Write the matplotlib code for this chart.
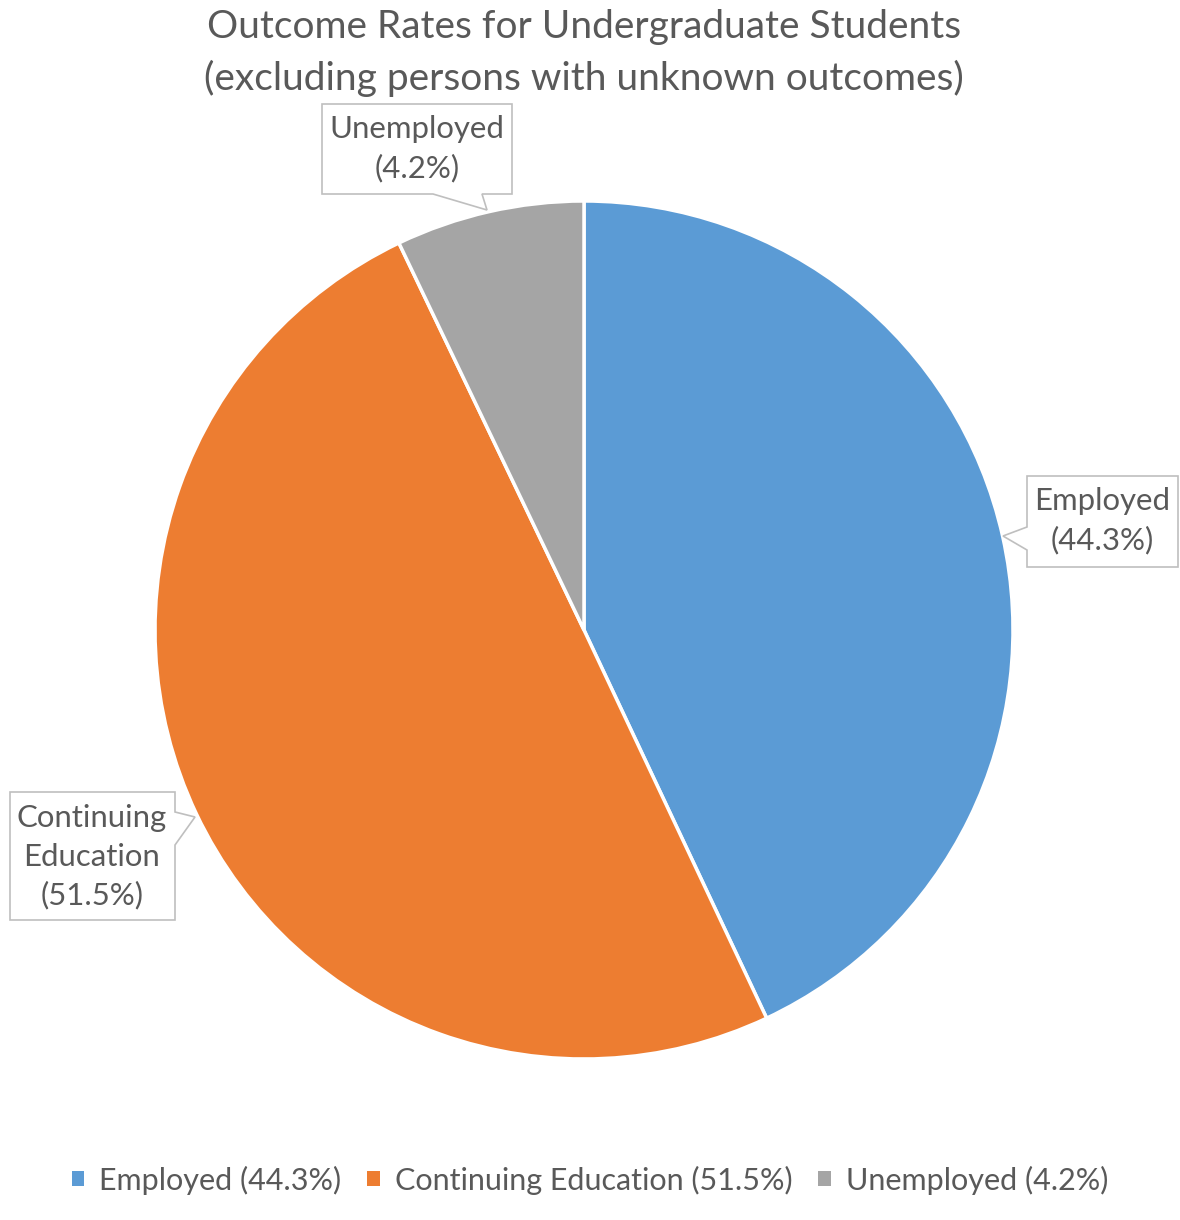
import matplotlib
matplotlib.use("Agg")
import matplotlib.pyplot as plt
from matplotlib.patches import Polygon, Patch

plt.rcParams['font.family'] = ['Lato', 'DejaVu Sans']

# data
categories = ['Employed', 'Continuing Education', 'Unemployed']
label_pcts = [44.3, 51.5, 4.2]          # what the labels say
slice_sizes = [43.0, 49.9, 7.1]         # how big the slices are drawn
colors = ['#5B9BD5', '#ED7D31', '#A5A5A5']
label_text = ['Employed\n(44.3%)', 'Continuing\nEducation\n(51.5%)', 'Unemployed\n(4.2%)']

W, H = 1180, 1220
TXT = '#595959'

def py(y):
    # pixel row (from top) -> data y (from bottom)
    return H - y

fig = plt.figure(figsize=(W / 100, H / 100), dpi=100)
ax = fig.add_axes([0, 0, 1, 1])

ax.pie(slice_sizes, colors=colors, startangle=90, counterclock=False,
       center=(584, py(630)), radius=429,
       wedgeprops=dict(edgecolor='white', linewidth=2.5))
ax.set_xlim(0, W)
ax.set_ylim(0, H)
ax.axis('off')

# callout boxes (box corners + pointer), pixel coords
callouts = [
    [(1027, 476), (1178, 476), (1178, 567), (1027, 567), (1027, 550), (1003, 536), (1027, 527)],
    [(10, 792), (175, 792), (175, 812), (195, 817), (175, 845), (175, 920), (10, 920)],
    [(322, 104), (512, 104), (512, 194), (482, 194), (487, 210), (433, 194), (322, 194)],
]
text_pos = [(1102, 521), (92, 857), (417, 149)]

for pts, (tx, ty), txt in zip(callouts, text_pos, label_text):
    poly = Polygon([(x, py(y)) for x, y in pts], closed=True,
                   facecolor='white', edgecolor='#BFBFBF', linewidth=1.2, zorder=3)
    ax.add_patch(poly)
    ax.text(tx, py(ty), txt, ha='center', va='center', fontsize=22.4,
            color=TXT, linespacing=1.45, zorder=4)

ax.text(584, py(53), 'Outcome Rates for Undergraduate Students\n(excluding persons with unknown outcomes)',
        ha='center', va='center', fontsize=28, color=TXT, linespacing=1.5)

handles = [Patch(facecolor=c, edgecolor='none') for c in colors]
labels = [f'{n} ({p}%)' for n, p in zip(categories, label_pcts)]
ax.legend(handles, labels, loc='center', bbox_to_anchor=(590 / W, 1 - 1180 / H),
          ncol=3, frameon=False, fontsize=22, labelcolor=TXT,
          handlelength=0.4, handleheight=0.4, handletextpad=0.5, columnspacing=0.85)

fig.savefig('out.png', dpi=100)
